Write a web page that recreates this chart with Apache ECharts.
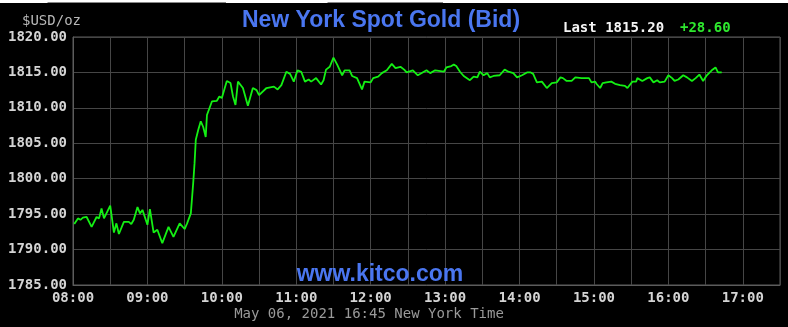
<!DOCTYPE html>
<html>
<head>
<meta charset="utf-8">
<script src="https://cdn.jsdelivr.net/npm/echarts/dist/echarts.min.js"></script>
<style>
html,body{margin:0;padding:0;background:#000;}
#c{width:788px;height:327px;}
</style>
</head>
<body>
<div id="c"></div>
<script>
const times = ["08:01","08:04","08:06","08:08","08:11","08:15","08:19","08:21","08:23","08:25","08:30","08:33","08:35","08:37","08:41","08:45","08:47","08:49","08:52","08:54","08:56","09:00","09:02","09:05","09:08","09:12","09:17","09:21","09:26","09:30","09:32","09:35","09:37","09:38","09:39","09:41","09:43","09:45","09:47","09:48","09:52","09:56","09:58","10:00","10:04","10:07","10:09","10:11","10:13","10:17","10:21","10:25","10:28","10:30","10:36","10:42","10:45","10:48","10:52","10:55","10:58","11:01","11:04","11:07","11:10","11:12","11:16","11:20","11:22","11:24","11:27","11:30","11:33","11:37","11:39","11:43","11:45","11:49","11:53","11:55","12:00","12:02","12:06","12:09","12:13","12:17","12:20","12:24","12:27","12:29","12:34","12:38","12:45","12:48","12:52","12:59","13:01","13:05","13:07","13:09","13:12","13:15","13:20","13:23","13:26","13:28","13:31","13:34","13:36","13:39","13:44","13:48","13:51","13:55","13:58","14:02","14:06","14:09","14:11","14:14","14:18","14:22","14:26","14:30","14:33","14:35","14:38","14:42","14:45","14:50","14:56","14:58","15:01","15:02","15:05","15:07","15:10","15:14","15:17","15:21","15:25","15:27","15:31","15:34","15:35","15:39","15:43","15:45","15:48","15:51","15:53","15:57","16:00","16:03","16:05","16:08","16:12","16:15","16:19","16:22","16:25","16:28","16:31","16:35","16:38","16:40","16:43"];
const prices = [1793.6,1794.4,1794.2,1794.5,1794.6,1793.2,1794.6,1794.4,1795.8,1794.4,1796.2,1792.4,1793.7,1792.2,1793.9,1793.9,1793.6,1794.2,1796.0,1795.1,1795.6,1793.5,1795.7,1792.4,1792.8,1790.9,1793.2,1791.8,1793.7,1792.9,1793.7,1795.1,1799.6,1802.2,1805.5,1806.9,1808.1,1807.3,1805.9,1809.0,1810.9,1811.0,1811.6,1811.4,1813.8,1813.5,1811.6,1810.4,1813.7,1812.8,1810.3,1812.8,1812.5,1811.8,1812.8,1813.0,1812.6,1813.2,1815.1,1814.8,1813.7,1815.3,1815.1,1813.7,1814.0,1813.7,1814.2,1813.3,1813.9,1815.4,1815.8,1817.1,1816.1,1814.6,1815.3,1815.3,1814.5,1814.2,1812.6,1813.7,1813.6,1814.2,1814.4,1814.9,1815.3,1816.2,1815.6,1815.8,1815.4,1815.0,1815.3,1814.6,1815.3,1814.9,1815.3,1815.1,1815.7,1815.9,1816.1,1815.9,1815.1,1814.5,1813.9,1814.4,1814.3,1815.1,1814.6,1814.9,1814.3,1814.5,1814.6,1815.4,1815.1,1814.9,1814.3,1814.6,1815.0,1815.0,1814.8,1813.6,1813.7,1812.8,1813.5,1813.6,1814.3,1814.2,1813.8,1813.8,1814.3,1814.2,1814.2,1813.6,1813.7,1813.4,1812.8,1813.5,1813.6,1813.7,1813.4,1813.2,1813.1,1812.8,1813.7,1813.7,1814.2,1813.8,1814.2,1814.3,1813.6,1813.9,1813.6,1813.7,1814.6,1814.2,1813.8,1814.0,1814.6,1814.3,1813.8,1814.2,1814.7,1813.8,1814.6,1815.3,1815.7,1815.0,1815.0];
const yTicks = [1785, 1790, 1795, 1800, 1805, 1810, 1815, 1820];
const xHourLabels = ["08:00","09:00","10:00","11:00","12:00","13:00","14:00","15:00","16:00","17:00"];
const titleText = "New York Spot Gold (Bid)";
const unitText = "$USD/oz";
const lastText = "Last 1815.20";
const changeText = "+28.60";
const siteText = "www.kitco.com";
const stampText = "May 06, 2021 16:45 New York Time";

function toHours(s){ const p = s.split(':'); return +p[0] + (+p[1])/60; }
const seriesData = times.map((t,i)=>[toHours(t), prices[i]]);

const mono = "'DejaVu Sans Mono', 'Liberation Mono', monospace";
const chart = echarts.init(document.getElementById('c'), null, {renderer:'canvas'});
chart.setOption({
  backgroundColor: '#000',
  animation: false,
  grid: {left: 73, right: 8, top: 37, bottom: 42, show: true, borderColor: '#5c5c5c', borderWidth: 1},
  xAxis: {
    type: 'value', min: 8, max: 17.5, interval: 0.5,
    axisLine: {show: true, lineStyle: {color: '#5c5c5c', width: 1}},
    axisTick: {show: false},
    splitLine: {show: true, lineStyle: {color: '#464646', width: 1}},
    axisLabel: {
      margin: 6, color: '#d4d4d4', fontFamily: mono, fontWeight: 'bold', fontSize: 14,
      showMaxLabel: true, showMinLabel: true,
      formatter: v => { const h = Math.round(v*2)/2; if (h % 1 !== 0) return ''; const idx = h - 8; return xHourLabels[idx] || ''; }
    }
  },
  yAxis: {
    type: 'value', min: yTicks[0], max: yTicks[yTicks.length-1], interval: 5,
    axisLine: {show: true, lineStyle: {color: '#5c5c5c', width: 1}},
    axisTick: {show: false},
    splitLine: {show: true, lineStyle: {color: '#464646', width: 1}},
    axisLabel: {margin: 6, color: '#d4d4d4', fontFamily: mono, fontWeight: 'bold', fontSize: 14,
      formatter: v => v.toFixed(2)}
  },
  series: [{
    type: 'line', data: seriesData, showSymbol: false, symbol: 'none',
    lineStyle: {color: '#14f014', width: 1.8}, z: 5
  }],
  graphic: [
    {type:'rect', left:0, top:0, shape:{x:0,y:0,width:788,height:3}, style:{fill:'#fff'}, silent:true},
    {type:'line', shape:{x1:47.5,y1:2.5,x2:226,y2:2.5}, style:{stroke:'#888', lineWidth:1}, silent:true},
    {type:'line', shape:{x1:327.5,y1:2.5,x2:443,y2:2.5}, style:{stroke:'#888', lineWidth:1}, silent:true},
    {type:'text', x:381, y:21, style:{text:titleText, fill:'#4a76f0', font:"bold 23px 'Liberation Sans', Arial, sans-serif", textAlign:'center', textVerticalAlign:'middle'}},
    {type:'text', x:22, y:21, style:{text:unitText, fill:'#b8b8b8', font:"14px " + mono, textAlign:'left', textVerticalAlign:'middle'}},
    {type:'text', x:563, y:28, style:{text:lastText, fill:'#f4f4f4', font:"bold 14px " + mono, textAlign:'left', textVerticalAlign:'middle'}},
    {type:'text', x:680, y:28, style:{text:changeText, fill:'#2ee82e', font:"bold 14px " + mono, textAlign:'left', textVerticalAlign:'middle'}},
    {type:'text', x:380, y:275, z:10, style:{text:siteText, fill:'#4a76f0', font:"bold 23px 'Liberation Sans', Arial, sans-serif", textAlign:'center', textVerticalAlign:'middle'}},
    {type:'text', x:369, y:314, style:{text:stampText, fill:'#9a9a9a', font:"14px " + mono, textAlign:'center', textVerticalAlign:'middle'}}
  ]
});
</script>
</body>
</html>
